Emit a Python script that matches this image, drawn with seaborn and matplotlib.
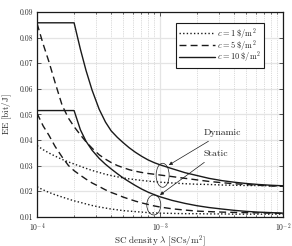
import numpy as np
import pandas as pd
import matplotlib
matplotlib.use('Agg')
import matplotlib.pyplot as plt
import matplotlib.ticker as mticker
from matplotlib.patches import Ellipse
from matplotlib.transforms import ScaledTranslation
import seaborn as sns

# SC density (SCs/m^2)
lam = [1e-4, 1.12e-4, 1.25e-4, 1.4e-4, 1.6e-4, 1.8e-4, 2e-4, 2.25e-4, 2.5e-4, 2.8e-4,
       3.2e-4, 3.6e-4, 4e-4, 4.5e-4, 5e-4, 5.6e-4, 6.3e-4, 7.1e-4, 8e-4, 9e-4,
       1e-3, 1.25e-3, 1.6e-3, 2e-3, 2.5e-3, 3.2e-3, 4e-3, 5e-3, 6.3e-3, 8e-3, 1e-2]

# Dynamic (upper group)
dyn_c1 = [0.0378, 0.0362, 0.0349, 0.0337, 0.0324, 0.0314, 0.0306, 0.0297, 0.0289, 0.0281,
          0.0273, 0.0266, 0.0261, 0.0256, 0.0252, 0.0248, 0.0245, 0.0242, 0.0239, 0.0237,
          0.0235, 0.0232, 0.0229, 0.0227, 0.0226, 0.0224, 0.0223, 0.0222, 0.0222, 0.0221, 0.0221]
dyn_c5 = [0.0855, 0.0775, 0.0705, 0.0625, 0.0535, 0.0485, 0.0452, 0.0420, 0.0393, 0.0368,
          0.0342, 0.0325, 0.0312, 0.0300, 0.0292, 0.0284, 0.0278, 0.0273, 0.0269, 0.0266,
          0.0263, 0.0257, 0.0250, 0.0244, 0.0238, 0.0233, 0.0229, 0.0226, 0.0223, 0.0220, 0.0219]
dyn_c10 = [0.0858, 0.0858, 0.0858, 0.0858, 0.0858, 0.0858, 0.0858, 0.0755, 0.0672, 0.0595,
           0.0520, 0.0470, 0.0436, 0.0410, 0.0390, 0.0370, 0.0352, 0.0336, 0.0322, 0.0311,
           0.0303, 0.0288, 0.0272, 0.0261, 0.0250, 0.0241, 0.0235, 0.0230, 0.0226, 0.0223, 0.0221]

# Static (lower group)
sta_c1 = [0.0217, 0.0205, 0.0195, 0.0186, 0.0177, 0.0169, 0.0162, 0.0156, 0.0150, 0.0144,
          0.0138, 0.0134, 0.0130, 0.0127, 0.0124, 0.0122, 0.0120, 0.0118, 0.0116, 0.0115,
          0.0114, 0.0113, 0.0112, 0.0112, 0.0111, 0.0111, 0.0110, 0.0110, 0.0110, 0.0110, 0.0110]
sta_c5 = [0.0504, 0.0455, 0.0418, 0.0375, 0.0333, 0.0300, 0.0280, 0.0262, 0.0247, 0.0232,
          0.0218, 0.0205, 0.0195, 0.0186, 0.0177, 0.0169, 0.0161, 0.0154, 0.0148, 0.0142,
          0.0138, 0.0131, 0.0126, 0.0122, 0.0120, 0.0118, 0.0117, 0.0116, 0.0115, 0.0114, 0.0113]
sta_c10 = [0.0515, 0.0515, 0.0515, 0.0515, 0.0515, 0.0515, 0.0515, 0.0440, 0.0395, 0.0360,
           0.0328, 0.0305, 0.0287, 0.0268, 0.0252, 0.0237, 0.0222, 0.0208, 0.0196, 0.0186,
           0.0178, 0.0164, 0.0152, 0.0143, 0.0136, 0.0130, 0.0125, 0.0121, 0.0118, 0.0116, 0.0114]

costs = [1, 5, 10]
labels = [r'$c = 1\ \$/\mathrm{m}^2$', r'$c = 5\ \$/\mathrm{m}^2$', r'$c = 10\ \$/\mathrm{m}^2$']
styles = {1: (0, (1, 1.6)), 5: (0, (5, 3)), 10: '-'}

# long form table
rows = []
for mode, series in [('Dynamic', [dyn_c1, dyn_c5, dyn_c10]),
                     ('Static', [sta_c1, sta_c5, sta_c10])]:
    for c, vals in zip(costs, series):
        for x, y in zip(lam, vals):
            rows.append({'lam': x, 'ee': y, 'c': c, 'mode': mode})
df = pd.DataFrame(rows)

sns.set_theme(style='ticks')
plt.rcParams['font.family'] = 'serif'
plt.rcParams['font.serif'] = ['cmr10', 'DejaVu Serif']
plt.rcParams['mathtext.fontset'] = 'cm'
plt.rcParams['axes.formatter.use_mathtext'] = True
plt.rcParams['font.size'] = 5.5

fig = plt.figure(figsize=(2.92, 2.46), dpi=100)
ax = fig.add_axes([0.127, 0.119, 0.842, 0.832])

for mode in ['Dynamic', 'Static']:
    for c, lab in zip(costs, labels):
        sub = df[(df['mode'] == mode) & (df['c'] == c)]
        sns.lineplot(data=sub, x='lam', y='ee', ax=ax, color='k', lw=1.0,
                     linestyle=styles[c], estimator=None,
                     label=lab if mode == 'Dynamic' else None, legend=False)

ax.set_xscale('log')
ax.set_xlim(1e-4, 1e-2)
ax.set_ylim(0.01, 0.09)
ax.yaxis.set_major_locator(mticker.MultipleLocator(0.01))
ax.yaxis.set_major_formatter(mticker.FormatStrFormatter('%.2f'))
ax.set_xlabel(r'$\mathrm{SC\ density}\ \lambda\ [\mathrm{SCs/m}^2]$', fontsize=6.6)
ax.set_ylabel(r'$\mathrm{EE\ [bit/J]}$', fontsize=6.6, labelpad=4)
ax.xaxis.set_label_coords(0.5, -0.08)

ax.set_axisbelow(True)
ax.grid(True, which='major', axis='y', color='#e4e4e4', lw=0.9, ls='-')
ax.grid(True, which='major', axis='x', color='#e4e4e4', lw=0.9, ls='-')
ax.grid(True, which='minor', axis='x', color='#b8b8b8', lw=0.5, ls=':')
ax.tick_params(which='both', direction='in', top=True, right=True,
               labelsize=5.5, width=0.5, color='k')
ax.tick_params(axis='x', which='major', pad=3.5)
ax.tick_params(axis='y', which='major', pad=2.5)
ax.tick_params(which='major', length=3)
ax.tick_params(which='minor', length=1.5)
for s in ax.spines.values():
    s.set_color('k')
    s.set_linewidth(0.9)

leg = ax.legend(loc='upper right', bbox_to_anchor=(0.923, 0.948), borderaxespad=0,
                fontsize=6, handlelength=4.3, handletextpad=0.2, borderpad=0.4,
                labelspacing=-0.4, fancybox=False, framealpha=1)
leg.get_frame().set_edgecolor('k')
leg.get_frame().set_linewidth(0.8)

# ellipses around the curve groups, sizes in inches
ell_pos = [(1.05e-3, 0.0262, 0.13, 0.24), (8.9e-4, 0.0146, 0.14, 0.20)]
for x, y, w, h in ell_pos:
    e = Ellipse((0, 0), w, h, fill=False, ec='k', lw=0.5,
                transform=fig.dpi_scale_trans + ScaledTranslation(x, y, ax.transData))
    ax.add_patch(e)

ax.annotate('Dynamic', xy=(1.18e-3, 0.0302), xytext=(2.25e-3, 0.0427),
            fontsize=7, va='center', ha='left',
            arrowprops=dict(arrowstyle='-|>', lw=0.5, color='k', mutation_scale=5,
                            shrinkA=1, shrinkB=0))
ax.annotate('Static', xy=(1.0e-3, 0.0185), xytext=(2.25e-3, 0.0345),
            fontsize=7, va='center', ha='left',
            arrowprops=dict(arrowstyle='-|>', lw=0.5, color='k', mutation_scale=5,
                            shrinkA=1, shrinkB=0))

fig.savefig('out.png', dpi=100)
